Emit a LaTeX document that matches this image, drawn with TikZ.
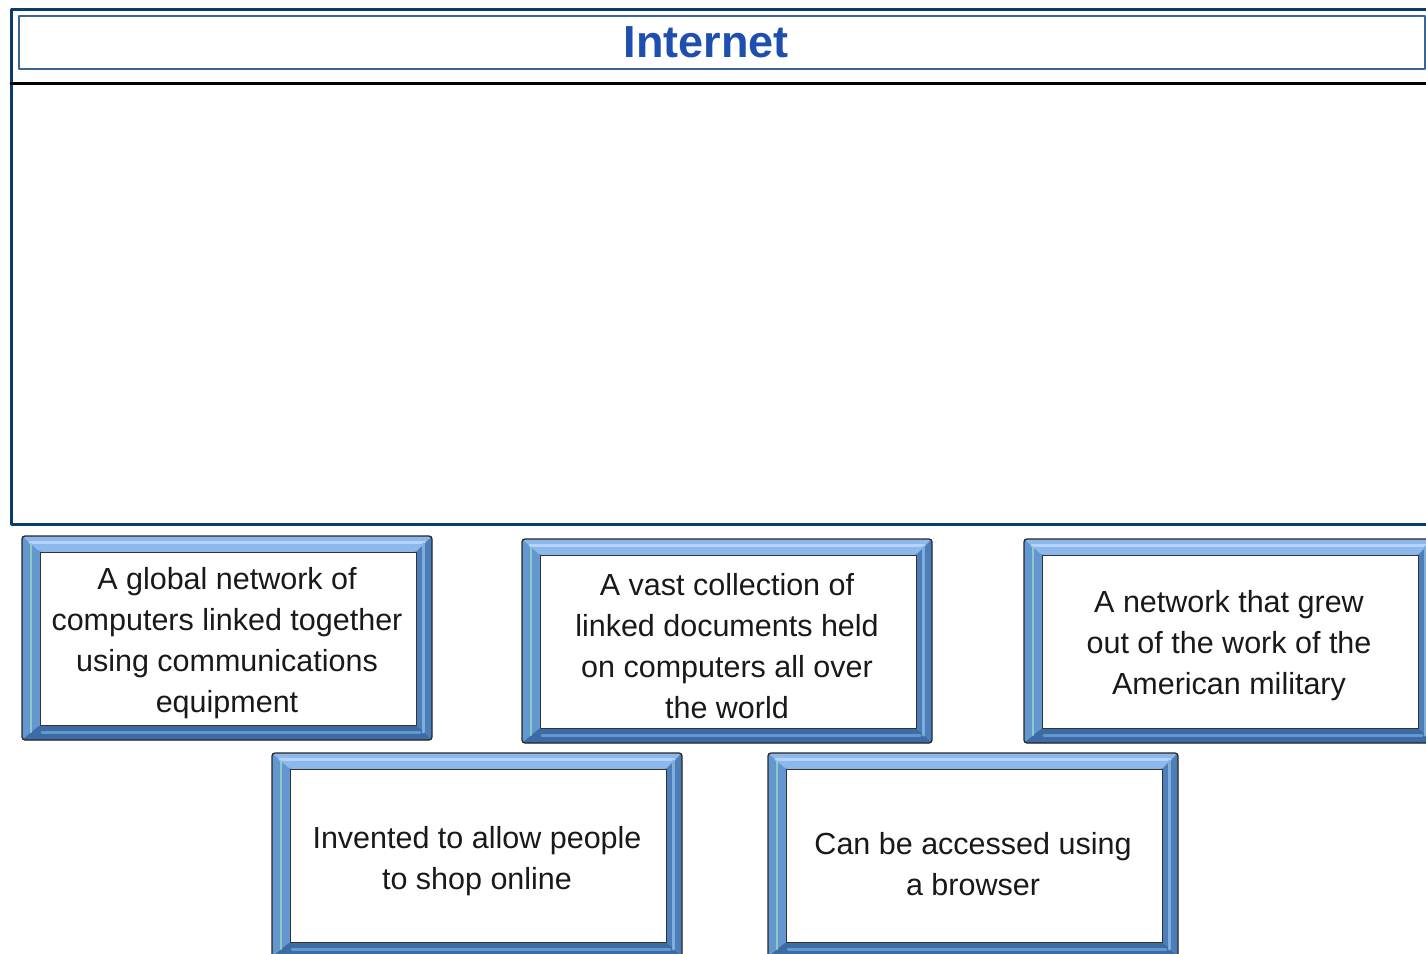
\documentclass[tikz,border=0pt]{standalone}
\usepackage{fontspec}
\setmainfont{Liberation Sans}
\definecolor{framenavy}{HTML}{0C3B6E}
\definecolor{titlenavy}{HTML}{3A6694}
\definecolor{titleblue}{HTML}{1F4FAE}
\definecolor{bvtop}{HTML}{8DB8EC}
\definecolor{bvpale}{HTML}{B6D3FF}
\definecolor{bvleft}{HTML}{6397D0}
\definecolor{bvgreen}{HTML}{92C8C4}
\definecolor{bvright}{HTML}{4C7FBA}
\definecolor{bvbottom}{HTML}{3D6CA4}
\newcommand{\cardfont}{\fontsize{30.5}{41}\selectfont}
\begin{document}
\begin{tikzpicture}[x=1pt,y=-1pt,line cap=round,line join=round,
	card/.style={minimum width=410pt,minimum height=204pt,inner sep=0pt,
		draw=black!85,line width=1.3pt,rounded corners=3pt,fill=bvleft,
		path picture={
			\coordinate (nw) at (path picture bounding box.north west);
			\coordinate (ne) at (path picture bounding box.north east);
			\coordinate (se) at (path picture bounding box.south east);
			\coordinate (sw) at (path picture bounding box.south west);
			\coordinate (inw) at ([shift={(18pt,-16pt)}]nw);
			\coordinate (ine) at ([shift={(-16pt,-16pt)}]ne);
			\coordinate (ise) at ([shift={(-16pt,15pt)}]se);
			\coordinate (isw) at ([shift={(18pt,15pt)}]sw);
			\fill[bvtop] (nw)--(ne)--(ine)--(inw)--cycle;
			\fill[bvright] (ne)--(se)--(ise)--(ine)--cycle;
			\fill[bvbottom] (se)--(sw)--(isw)--(ise)--cycle;
			\draw[bvpale,line width=3pt] ([shift={(8pt,-6pt)}]nw)--([shift={(-8pt,-6pt)}]ne);
			\draw[bvgreen,line width=2.5pt] ([shift={(9pt,-8pt)}]nw)--([shift={(9pt,8pt)}]sw);
			\draw[bvleft!80!white,line width=3pt] ([shift={(-9pt,-8pt)}]ne)--([shift={(-9pt,8pt)}]se);
			\draw[bvleft,line width=3pt] ([shift={(20pt,8pt)}]sw)--([shift={(-12pt,8pt)}]se);
			\fill[white,draw=black!80,line width=1pt,sharp corners] (isw) rectangle (ine);
		}},
	cardtext/.style={align=center,font=\cardfont,text=black!90,inner sep=0pt}]
	\clip (0,0) rectangle (1426,953);
	\draw[framenavy,line width=3pt] (11,9) rectangle (1460,524);
	\draw[titlenavy,line width=2pt] (19,16) rectangle (1425,69);
	\draw[black,line width=3pt] (11,83)--(1460,83);
	\node[font=\fontsize{45}{50}\selectfont\bfseries,text=titleblue] (title) at (706,42) {Internet};
	% answer cards
	\node[card] (global) at (227,638) {};
	\node[card] (docs) at (727,641) {};
	\node[card] (military) at (1229,641) {};
	\node[card] (shop) at (477,855) {};
	\node[card] (browser) at (973,855) {};
	\node[cardtext] (globaltext) at ([yshift=-5pt]global.center) {A global network of\\computers linked together\\using communications\\equipment};
	\node[cardtext] (docstext) at ([yshift=-5pt]docs.center) {A vast collection of\\linked documents held\\on computers all over\\the world};
	\node[cardtext] (militarytext) at ([yshift=-5pt]military.center) {A network that grew\\out of the work of the\\American military};
	\node[cardtext] (shoptext) at ([yshift=-6pt]shop.center) {Invented to allow people\\to shop online};
	\node[cardtext] (browsertext) at ([yshift=-9pt]browser.center) {Can be accessed using\\a browser};
\end{tikzpicture}
\end{document}
